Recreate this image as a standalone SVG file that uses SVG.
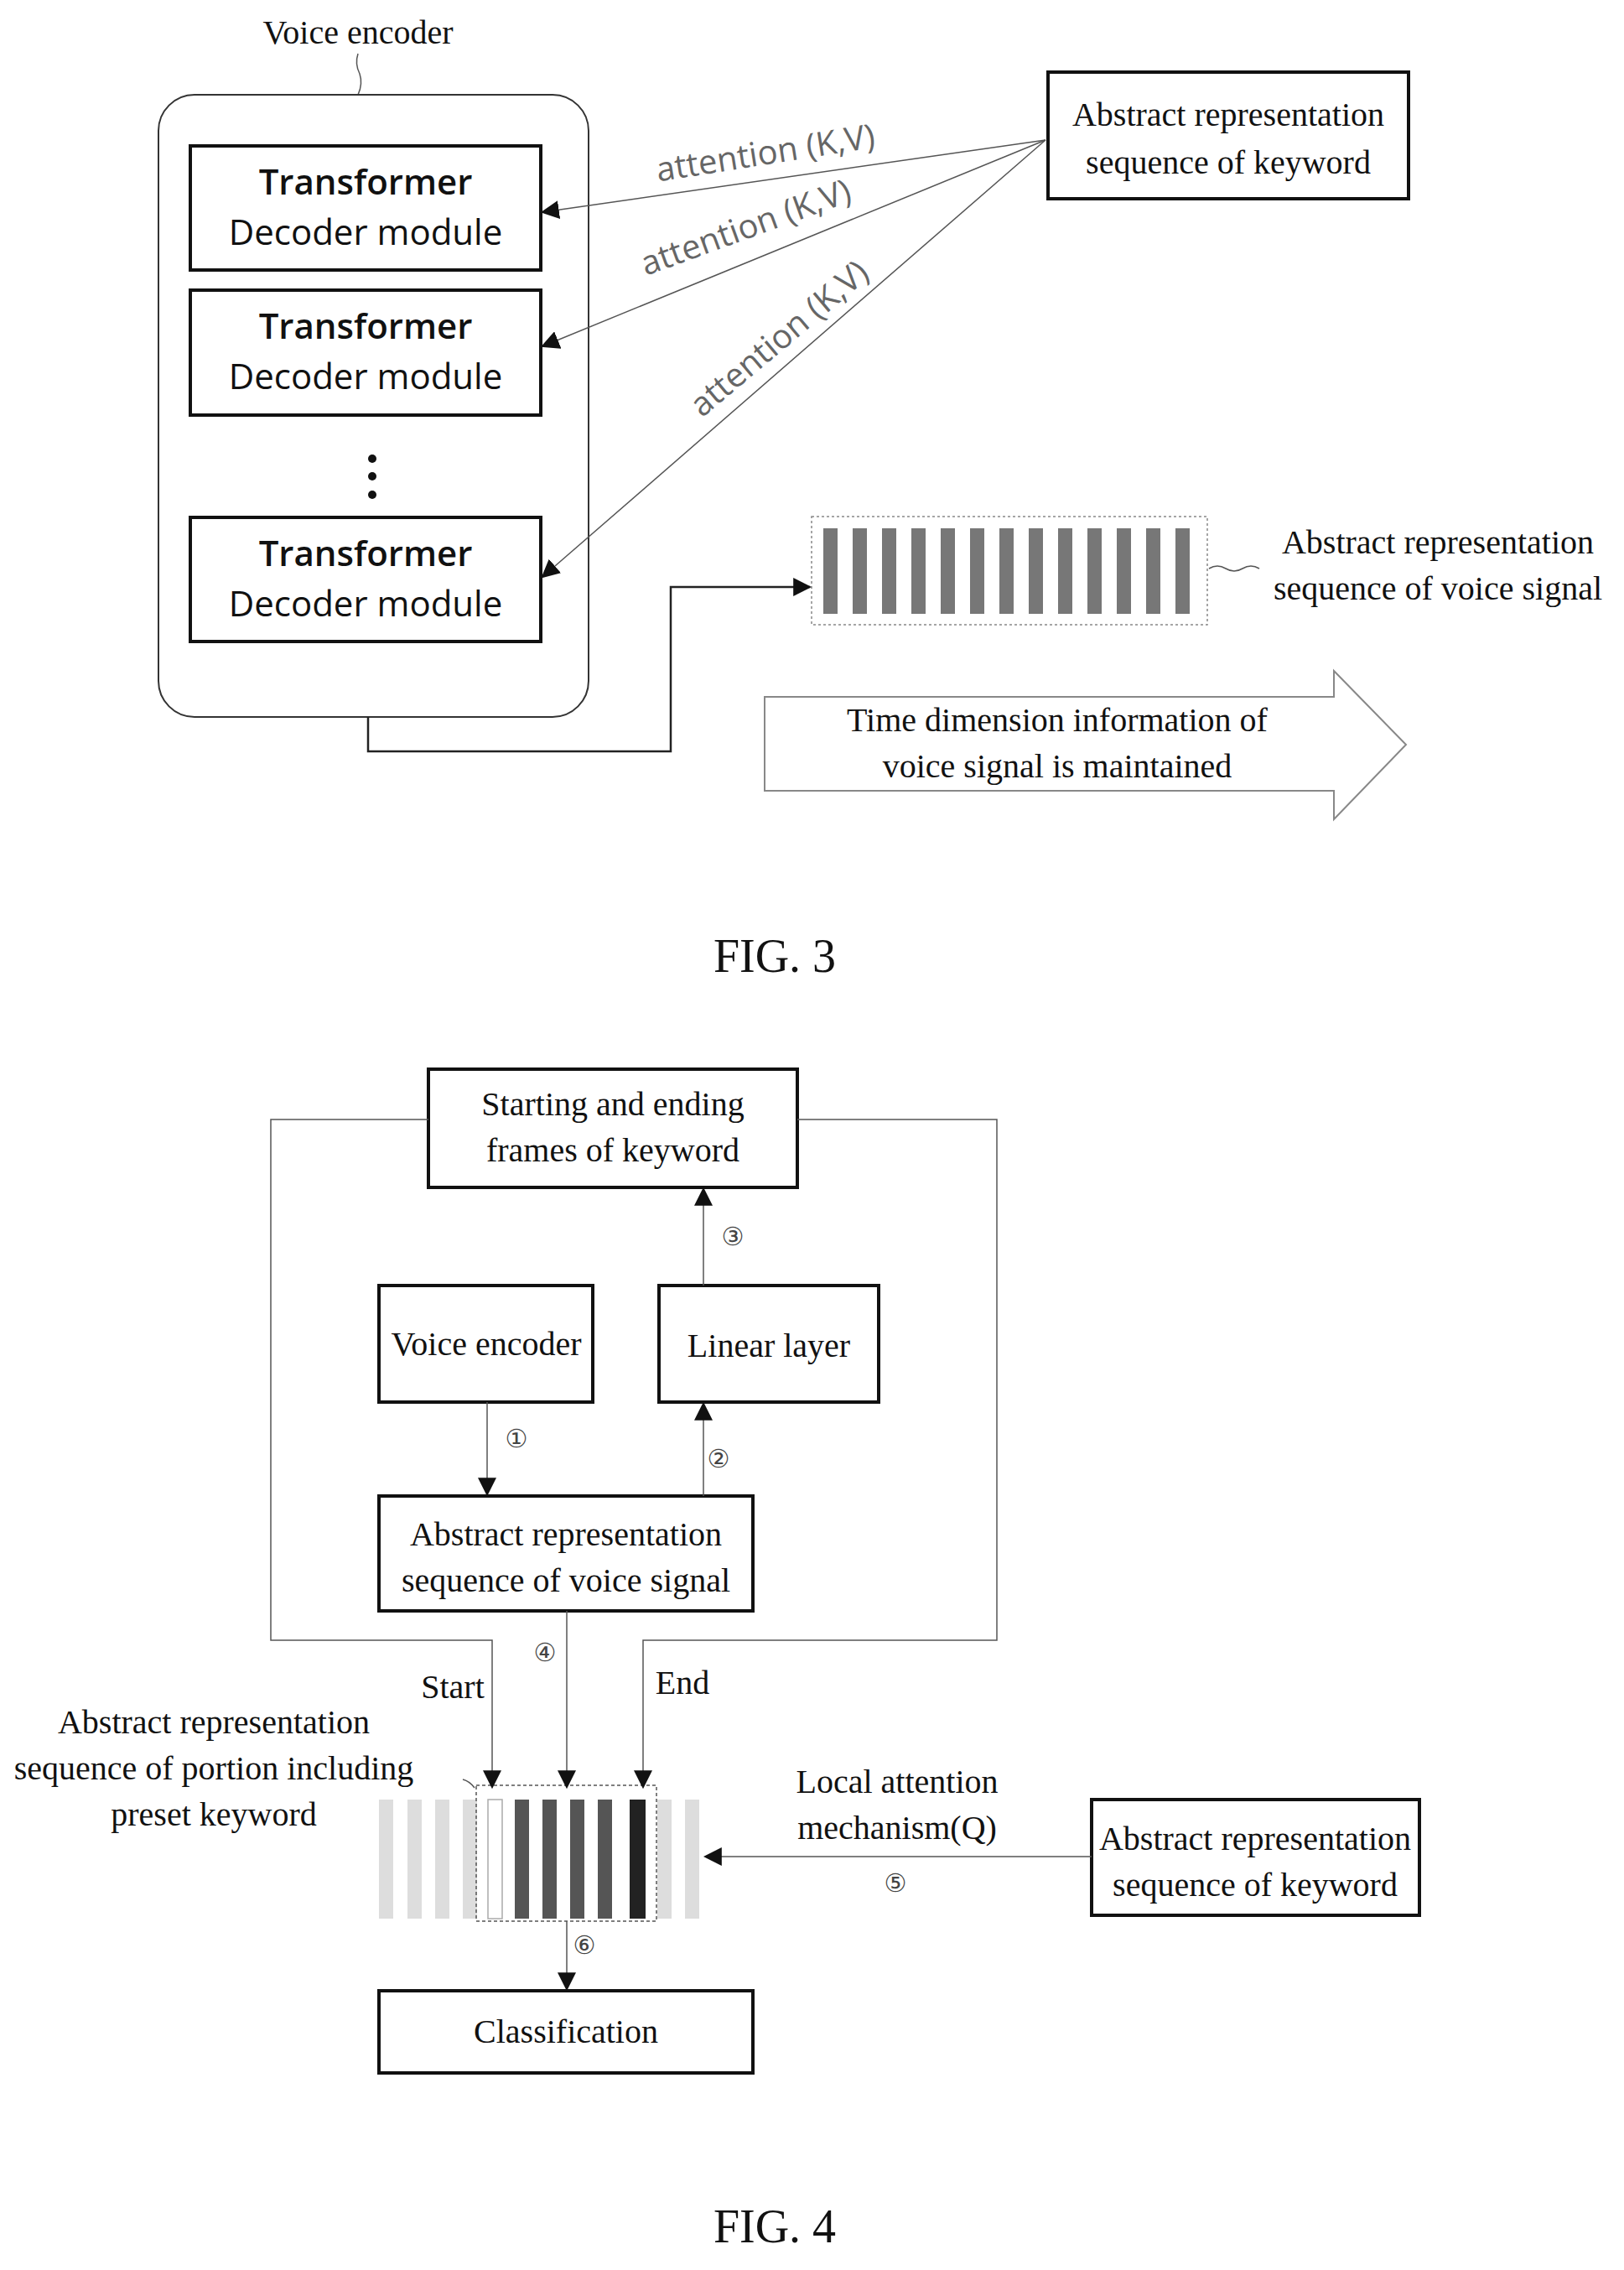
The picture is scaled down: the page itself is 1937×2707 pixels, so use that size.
<svg xmlns="http://www.w3.org/2000/svg" width="1937" height="2707" viewBox="0 0 1937 2707">
<style>
.t{font-family:"Liberation Serif",serif;font-size:40px;fill:#111;text-anchor:middle}
.fig{font-family:"Liberation Serif",serif;font-size:56px;fill:#111;text-anchor:middle}
.s{font-family:"Open Sans","Noto Sans",sans-serif;font-size:42px;fill:#111;text-anchor:middle}
.att{font-family:"Open Sans","Noto Sans",sans-serif;font-size:40px;fill:#666;text-anchor:middle}
.n{font-family:"DejaVu Sans",sans-serif;font-size:30px;fill:#444;text-anchor:middle}
.box{fill:#fff;stroke:#111;stroke-width:4}
.ln{fill:none;stroke:#222;stroke-width:2.5}
.thin{fill:none;stroke:#555;stroke-width:1.5}
</style>
<defs>
<marker id="ahb" viewBox="0 0 10 10" refX="9" refY="5" markerWidth="22" markerHeight="22" markerUnits="userSpaceOnUse" orient="auto"><path d="M0,0 L10,5 L0,10 z" fill="#111"/></marker>
</defs>
<rect width="1937" height="2707" fill="#fff"/>

<g id="fig3-encoder">
<text class="t" x="427" y="52">Voice encoder</text>
<path class="thin" d="M427,64 q-4,12 2,24 q4,12 -2,25"/>
<rect x="189" y="113" width="513" height="742" rx="43" fill="#fff" stroke="#333" stroke-width="2"/>
</g>
<g id="tf1"><rect class="box" x="227" y="174" width="418" height="148"/><text class="s" x="436" y="232" font-weight="600">Transformer</text><text class="s" x="436" y="292">Decoder module</text></g>
<g id="tf2"><rect class="box" x="227" y="346" width="418" height="149"/><text class="s" x="436" y="404" font-weight="600">Transformer</text><text class="s" x="436" y="464">Decoder module</text></g>
<g id="dots"><circle cx="444" cy="547" r="5" fill="#111"/><circle cx="444" cy="568" r="5" fill="#111"/><circle cx="444" cy="590" r="5" fill="#111"/></g>
<g id="tf3"><rect class="box" x="227" y="617" width="418" height="148"/><text class="s" x="436" y="675" font-weight="600">Transformer</text><text class="s" x="436" y="735">Decoder module</text></g>
<g id="kw1"><rect class="box" x="1250" y="86" width="430" height="151"/><text class="t" x="1465" y="150">Abstract representation</text><text class="t" x="1465" y="207">sequence of keyword</text></g>
<g id="seq3">
<rect x="968" y="616" width="472" height="129" fill="none" stroke="#888" stroke-width="1.5" stroke-dasharray="3,3"/>
<g fill="#777">
<rect x="982" y="630" width="17" height="102"/><rect x="1017" y="630" width="17" height="102"/><rect x="1052" y="630" width="17" height="102"/><rect x="1087" y="630" width="17" height="102"/><rect x="1122" y="630" width="17" height="102"/><rect x="1157" y="630" width="17" height="102"/><rect x="1192" y="630" width="17" height="102"/><rect x="1227" y="630" width="17" height="102"/><rect x="1262" y="630" width="17" height="102"/><rect x="1297" y="630" width="17" height="102"/><rect x="1332" y="630" width="17" height="102"/><rect x="1367" y="630" width="17" height="102"/><rect x="1402" y="630" width="17" height="102"/>
</g>
<path class="thin" d="M1442,678 q10,-6 20,0 q10,6 20,0 q10,-6 20,0"/>
<text class="t" x="1715" y="660">Abstract representation</text>
<text class="t" x="1715" y="715">sequence of voice signal</text>
</g>
<g id="timearrow">
<path d="M912,831 H1591 V800 L1677,888 L1591,977 V943 H912 Z" fill="#fff" stroke="#888" stroke-width="2"/>
<text class="t" x="1261" y="872">Time dimension information of</text>
<text class="t" x="1261" y="927">voice signal is maintained</text>
</g>
<g id="connectors3">
<line class="thin" x1="1247" y1="167" x2="647" y2="253" marker-end="url(#ahb)" stroke="#333"/>
<line class="thin" x1="1247" y1="167" x2="647" y2="413" marker-end="url(#ahb)" stroke="#333"/>
<line class="thin" x1="1247" y1="167" x2="647" y2="688" marker-end="url(#ahb)" stroke="#333"/>
<polyline class="ln" points="439,855 439,896 800,896 800,700 966,700" marker-end="url(#ahb)"/>
<text class="att" transform="translate(915,196) rotate(-9)">attention (K,V)</text>
<text class="att" transform="translate(894,284) rotate(-20)">attention (K,V)</text>
<text class="att" transform="translate(938,414) rotate(-40)">attention (K,V)</text>
</g>
<text class="fig" x="924" y="1159">FIG. 3</text>

<g id="startend"><rect class="box" x="511" y="1275" width="440" height="141"/><text class="t" x="731" y="1330">Starting and ending</text><text class="t" x="731" y="1385">frames of keyword</text></g>
<g id="venc"><rect class="box" x="452" y="1533" width="255" height="139"/><text class="t" x="580" y="1616">Voice encoder</text></g>
<g id="linear"><rect class="box" x="786" y="1533" width="262" height="139"/><text class="t" x="917" y="1618">Linear layer</text></g>
<g id="absvoice"><rect class="box" x="452" y="1784" width="446" height="137"/><text class="t" x="675" y="1843">Abstract representation</text><text class="t" x="675" y="1898">sequence of voice signal</text></g>
<g id="kw2"><rect class="box" x="1302" y="2146" width="391" height="138"/><text class="t" x="1497" y="2206">Abstract representation</text><text class="t" x="1497" y="2261">sequence of keyword</text></g>
<g id="classif"><rect class="box" x="452" y="2374" width="446" height="98"/><text class="t" x="675" y="2436">Classification</text></g>
<g id="seq4">
<g fill="#ddd"><rect x="452" y="2146" width="17" height="142"/><rect x="486" y="2146" width="17" height="142"/><rect x="519" y="2146" width="17" height="142"/><rect x="552" y="2146" width="17" height="142"/><rect x="784" y="2146" width="17" height="142"/><rect x="817" y="2146" width="17" height="142"/></g>
<rect x="582" y="2146" width="17" height="142" fill="#fff" stroke="#aaa" stroke-width="1.5"/>
<g fill="#555"><rect x="614" y="2146" width="17" height="142"/><rect x="647" y="2146" width="17" height="142"/><rect x="680" y="2146" width="17" height="142"/><rect x="713" y="2146" width="17" height="142"/></g>
<rect x="751" y="2146" width="19" height="142" fill="#222"/>
<rect x="568" y="2129" width="215" height="162" fill="none" stroke="#555" stroke-width="1.5" stroke-dasharray="4,3"/>
<path class="thin" d="M552,2122 q8,2 14,10"/>
<text class="t" x="255" y="2067">Abstract representation</text>
<text class="t" x="255" y="2122">sequence of portion including</text>
<text class="t" x="255" y="2177">preset keyword</text>
</g>
<g id="connectors4">
<polyline class="thin" points="511,1335 323,1335 323,1956 587,1956 587,2131" marker-end="url(#ahb)"/>
<polyline class="thin" points="951,1335 1189,1335 1189,1956 767,1956 767,2131" marker-end="url(#ahb)"/>
<line class="thin" x1="581" y1="1672" x2="581" y2="1782" marker-end="url(#ahb)"/>
<line class="thin" x1="839" y1="1784" x2="839" y2="1674" marker-end="url(#ahb)"/>
<line class="thin" x1="839" y1="1533" x2="839" y2="1418" marker-end="url(#ahb)"/>
<line class="thin" x1="676" y1="1921" x2="676" y2="2131" marker-end="url(#ahb)"/>
<line class="thin" x1="1302" y1="2214" x2="841" y2="2214" marker-end="url(#ahb)"/>
<line class="thin" x1="676" y1="2291" x2="676" y2="2372" marker-end="url(#ahb)"/>
<text class="n" x="616" y="1726">①</text>
<text class="n" x="857" y="1750">②</text>
<text class="n" x="874" y="1485">③</text>
<text class="n" x="650" y="1981">④</text>
<text class="n" x="1068" y="2256">⑤</text>
<text class="n" x="697" y="2330">⑥</text>
<text class="t" x="540" y="2025">Start</text>
<text class="t" x="814" y="2020">End</text>
<text class="t" x="1070" y="2138">Local attention</text>
<text class="t" x="1070" y="2193">mechanism(Q)</text>
</g>
<text class="fig" x="924" y="2674">FIG. 4</text>
</svg>
